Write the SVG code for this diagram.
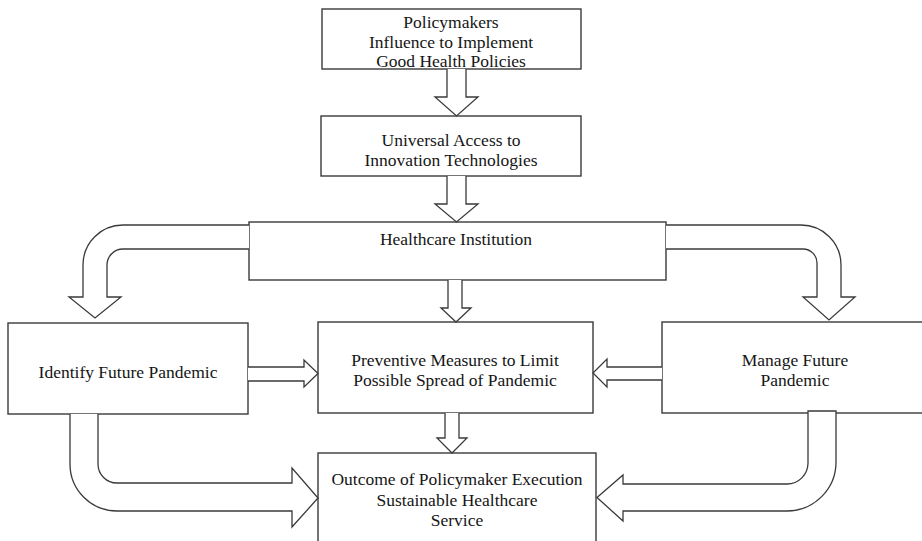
<svg xmlns="http://www.w3.org/2000/svg" width="922" height="541" viewBox="0 0 922 541">
  <style>
    .box { fill: #ffffff; stroke: #3a3a3a; stroke-width: 1.4; }
    .arrow { fill: #ffffff; stroke: #3a3a3a; stroke-width: 1.3; stroke-linejoin: miter; }
    .label { font-family: "Liberation Serif", "Times New Roman", serif; font-size: 17.5px; fill: #151515; text-anchor: middle; }
  </style>
  <rect width="922" height="541" fill="#ffffff"/>

  <!-- nodes -->
  <g id="policymakers">
    <rect class="box" x="322" y="9" width="259" height="60"/>
    <text class="label" x="451" y="28">Policymakers</text>
    <text class="label" x="451" y="47.5">Influence to Implement</text>
    <text class="label" x="451" y="67">Good Health Policies</text>
  </g>
  <g id="universal-access">
    <rect class="box" x="321" y="116" width="260" height="60"/>
    <text class="label" x="451" y="146">Universal Access to</text>
    <text class="label" x="451" y="166">Innovation Technologies</text>
  </g>
  <g id="healthcare-institution">
    <rect class="box" x="249" y="222" width="417" height="58"/>
    <text class="label" x="456" y="245">Healthcare Institution</text>
  </g>
  <g id="identify-pandemic">
    <rect class="box" x="8" y="323" width="240" height="91"/>
    <text class="label" x="128" y="378">Identify Future Pandemic</text>
  </g>
  <g id="preventive-measures">
    <rect class="box" x="318" y="322" width="275" height="91"/>
    <text class="label" x="455" y="366">Preventive Measures to Limit</text>
    <text class="label" x="455" y="386">Possible Spread of Pandemic</text>
  </g>
  <g id="manage-pandemic">
    <rect class="box" x="662" y="322" width="270" height="91"/>
    <text class="label" x="795" y="366">Manage Future</text>
    <text class="label" x="795" y="386">Pandemic</text>
  </g>
  <g id="outcome">
    <rect class="box" x="318" y="453" width="278" height="95"/>
    <text class="label" x="457" y="485">Outcome of Policymaker Execution</text>
    <text class="label" x="457" y="505.5">Sustainable Healthcare</text>
    <text class="label" x="457" y="526">Service</text>
  </g>

  <!-- connectors: hollow block arrows -->
  <g id="connectors">
    <!-- policymakers -> universal access -->
    <path class="arrow" d="M447 69 V97 H435 L456.5 116 L478 97 H466 V69"/>
    <!-- universal access -> healthcare institution -->
    <path class="arrow" d="M447 176 V204 H435 L456.5 222 L478 204 H466 V176"/>
    <!-- healthcare institution -> preventive measures -->
    <path class="arrow" d="M448 280 V308 H441 L456 322 L471 308 H462 V280"/>
    <!-- preventive measures -> outcome -->
    <path class="arrow" d="M445 413 V438 H437 L452 453 L467 438 H459 V413"/>
    <!-- identify -> preventive -->
    <path class="arrow" d="M248 367 H304 V360 L318 373.5 L304 387 V381 H248"/>
    <!-- manage -> preventive -->
    <path class="arrow" d="M662 367 H607 V359 L593 373 L607 387 V380 H662"/>
    <!-- healthcare institution -> identify (curved) -->
    <path class="arrow" d="M249 225 H123 A40 40 0 0 0 83 265 V297 H69 L95 318 L121 297 H107 V265 A16 16 0 0 1 123 249 H249"/>
    <!-- healthcare institution -> manage (curved) -->
    <path class="arrow" d="M666 249 H803 A14 14 0 0 1 817 263 V297 H803 L829 320 L855 297 H841 V265 A40 40 0 0 0 801 225 H666"/>
    <!-- identify -> outcome (curved) -->
    <path class="arrow" d="M70 414 V464 A47 47 0 0 0 117 511 H292 V527 L318 498 L292 468 V483 H117 A19 19 0 0 1 98 464 V414"/>
    <!-- manage -> outcome (curved) -->
    <path class="arrow" d="M808 411 V463 A21 21 0 0 1 787 484 H623 V475 L597 497.5 L623 521 V511 H787 A49 49 0 0 0 836 462 V411 Z"/>
  </g>
</svg>
